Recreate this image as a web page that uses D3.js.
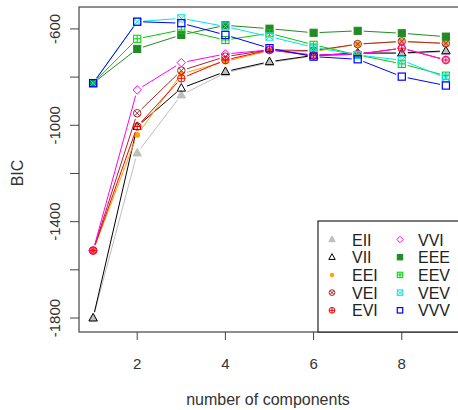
<!DOCTYPE html>
<html><head><meta charset="utf-8">
<script src="https://cdn.jsdelivr.net/npm/d3@7"></script>
<style>body{margin:0;background:#fff}svg{display:block;font-family:"Liberation Sans",Arial,sans-serif}</style>
</head><body><svg id="c" width="458" height="410"></svg>
<script>
const components = [1,2,3,4,5,6,7,8,9];
const models = ["EII","VII","EEI","VEI","EVI","VVI","EEE","EEV","VEV","VVV"];
const modelColors = ["#bebebe","#000000","#ffa500","#a52a2a","#ff0000","#ff00ff","#228b22","#00cd00","#00e5ee","#0000ff"];
const modelSymbols = ["triFill","triOpen","dot","circX","circPlus","diamond","sqFill","sqPlus","sqX","sqOpen"];
const EII = [-1800,-1115,-874,-782,-740,-712,-703,-702,-695];
const VII = [-1800,-1005,-846,-777,-736,-710,-700,-700,-691];
const EEI = [-1520,-1040,-787,-735,-690,-695,-663,-652,-660];
const VEI = [-1520,-950,-773,-715,-687,-690,-663,-652,-660];
const EVI = [-1520,-1005,-805,-729,-687,-711,-705,-680,-729];
const VVI = [-1520,-853,-740,-704,-687,-708,-705,-680,-729];
const EEE = [-825,-683,-625,-585,-599,-616,-608,-618,-632];
const EEV = [-825,-641,-604,-646,-618,-666,-708,-745,-794];
const VEV = [-825,-570,-556,-590,-632,-676,-708,-730,-803];
const VVV = [-825,-570,-576,-625,-680,-715,-726,-798,-835];
const bicSeries = [EII,VII,EEI,VEI,EVI,VVI,EEE,EEV,VEV,VVV];
const xTicks = [2,4,6,8];
const yTicks = [-1800,-1600,-1400,-1200,-1000,-800,-600];
const yTickLabels = ["-1800","","-1400","","-1000","","-600"];

const svg = d3.select("#c");
const x = d3.scaleLinear().domain([0.68,9.32]).range([79,460]);
const y = d3.scaleLinear().domain([-1858,-509]).range([332,7]);
const axisCol = "#444", textCol = "#333";

function drawSymbol(g, kind, col, r){
  if(kind==="triFill"||kind==="triOpen"){
    const p = `M0,${-r*1.1}L${r},${r*0.7}L${-r},${r*0.7}Z`;
    g.append("path").attr("d",p).attr("fill",kind==="triFill"?col:"none").attr("stroke",col).attr("stroke-width",1);
  } else if(kind==="dot"){
    g.append("circle").attr("r",r*0.7).attr("fill",col);
  } else if(kind==="circX"||kind==="circPlus"){
    g.append("circle").attr("r",r*0.9).attr("fill","none").attr("stroke",col).attr("stroke-width",1);
    const a = r*0.9;
    const p = kind==="circX" ? `M${-a*0.7},${-a*0.7}L${a*0.7},${a*0.7}M${-a*0.7},${a*0.7}L${a*0.7},${-a*0.7}` : `M${-a},0L${a},0M0,${-a}L0,${a}`;
    g.append("path").attr("d",p).attr("stroke",col).attr("stroke-width",1);
  } else if(kind==="diamond"){
    g.append("path").attr("d",`M0,${-r}L${r},0L0,${r}L${-r},0Z`).attr("fill","none").attr("stroke",col).attr("stroke-width",1);
  } else {
    const a = r*0.85;
    g.append("rect").attr("x",-a).attr("y",-a).attr("width",2*a).attr("height",2*a)
      .attr("fill",kind==="sqFill"?col:"none").attr("stroke",col).attr("stroke-width",kind==="sqOpen"?1.2:1);
    if(kind==="sqPlus") g.append("path").attr("d",`M${-a},0L${a},0M0,${-a}L0,${a}`).attr("stroke",col).attr("stroke-width",1);
    if(kind==="sqX") g.append("path").attr("d",`M${-a},${-a}L${a},${a}M${-a},${a}L${a},${-a}`).attr("stroke",col).attr("stroke-width",1);
  }
}

// series
const gap = 6;
bicSeries.forEach((vals,i)=>{
  const col = modelColors[i];
  const g = svg.append("g");
  for(let j=0;j<vals.length-1;j++){
    const x0=x(components[j]), y0=y(vals[j]), x1=x(components[j+1]), y1=y(vals[j+1]);
    const len=Math.hypot(x1-x0,y1-y0);
    if(len<=2*gap) continue;
    const ux=(x1-x0)/len, uy=(y1-y0)/len;
    g.append("line").attr("x1",x0+ux*gap).attr("y1",y0+uy*gap).attr("x2",x1-ux*gap).attr("y2",y1-uy*gap)
      .attr("stroke",col).attr("stroke-width",1);
  }
  vals.forEach((v,j)=>{
    const sg = g.append("g").attr("transform",`translate(${x(components[j])},${y(v)})`);
    drawSymbol(sg, modelSymbols[i], col, 4.2);
  });
});

// box
svg.append("rect").attr("x",79).attr("y",7).attr("width",381).attr("height",325)
  .attr("fill","none").attr("stroke",axisCol).attr("stroke-width",1.2);

// x axis
const xa = svg.append("g");
xTicks.forEach(t=>{
  xa.append("line").attr("x1",x(t)).attr("x2",x(t)).attr("y1",332).attr("y2",340).attr("stroke",axisCol);
  xa.append("text").attr("x",x(t)).attr("y",369).attr("text-anchor","middle").attr("font-size",15).attr("fill",textCol).text(t);
});
// y axis
yTicks.forEach((t,i)=>{
  svg.append("line").attr("x1",70).attr("x2",79).attr("y1",y(t)).attr("y2",y(t)).attr("stroke",axisCol);
  if(yTickLabels[i]) svg.append("text").attr("transform",`translate(60,${y(t)}) rotate(-90)`)
    .attr("text-anchor","middle").attr("font-size",15).attr("fill",textCol).text(yTickLabels[i]);
});
svg.append("text").attr("x",268).attr("y",405).attr("text-anchor","middle").attr("font-size",16).attr("fill",textCol).text("number of components");
svg.append("text").attr("transform","translate(23,173) rotate(-90)").attr("text-anchor","middle").attr("font-size",16).attr("fill",textCol).text("BIC");

// legend
const lg = svg.append("g");
lg.append("rect").attr("x",318).attr("y",221).attr("width",142).attr("height",111).attr("fill","#fff").attr("stroke","#222").attr("stroke-width",1.2);
models.forEach((m,i)=>{
  const col = Math.floor(i/5), row = i%5;
  const yy = 239.5 + row*17.7;
  const sx = col===0?332:400, tx = col===0?352:418;
  const sg = lg.append("g").attr("transform",`translate(${sx},${yy})`);
  drawSymbol(sg, modelSymbols[i], modelColors[i], 3.2);
  lg.append("text").attr("x",tx).attr("y",yy+6).attr("font-size",16).attr("fill","#222").text(m);
});
</script></body></html>
